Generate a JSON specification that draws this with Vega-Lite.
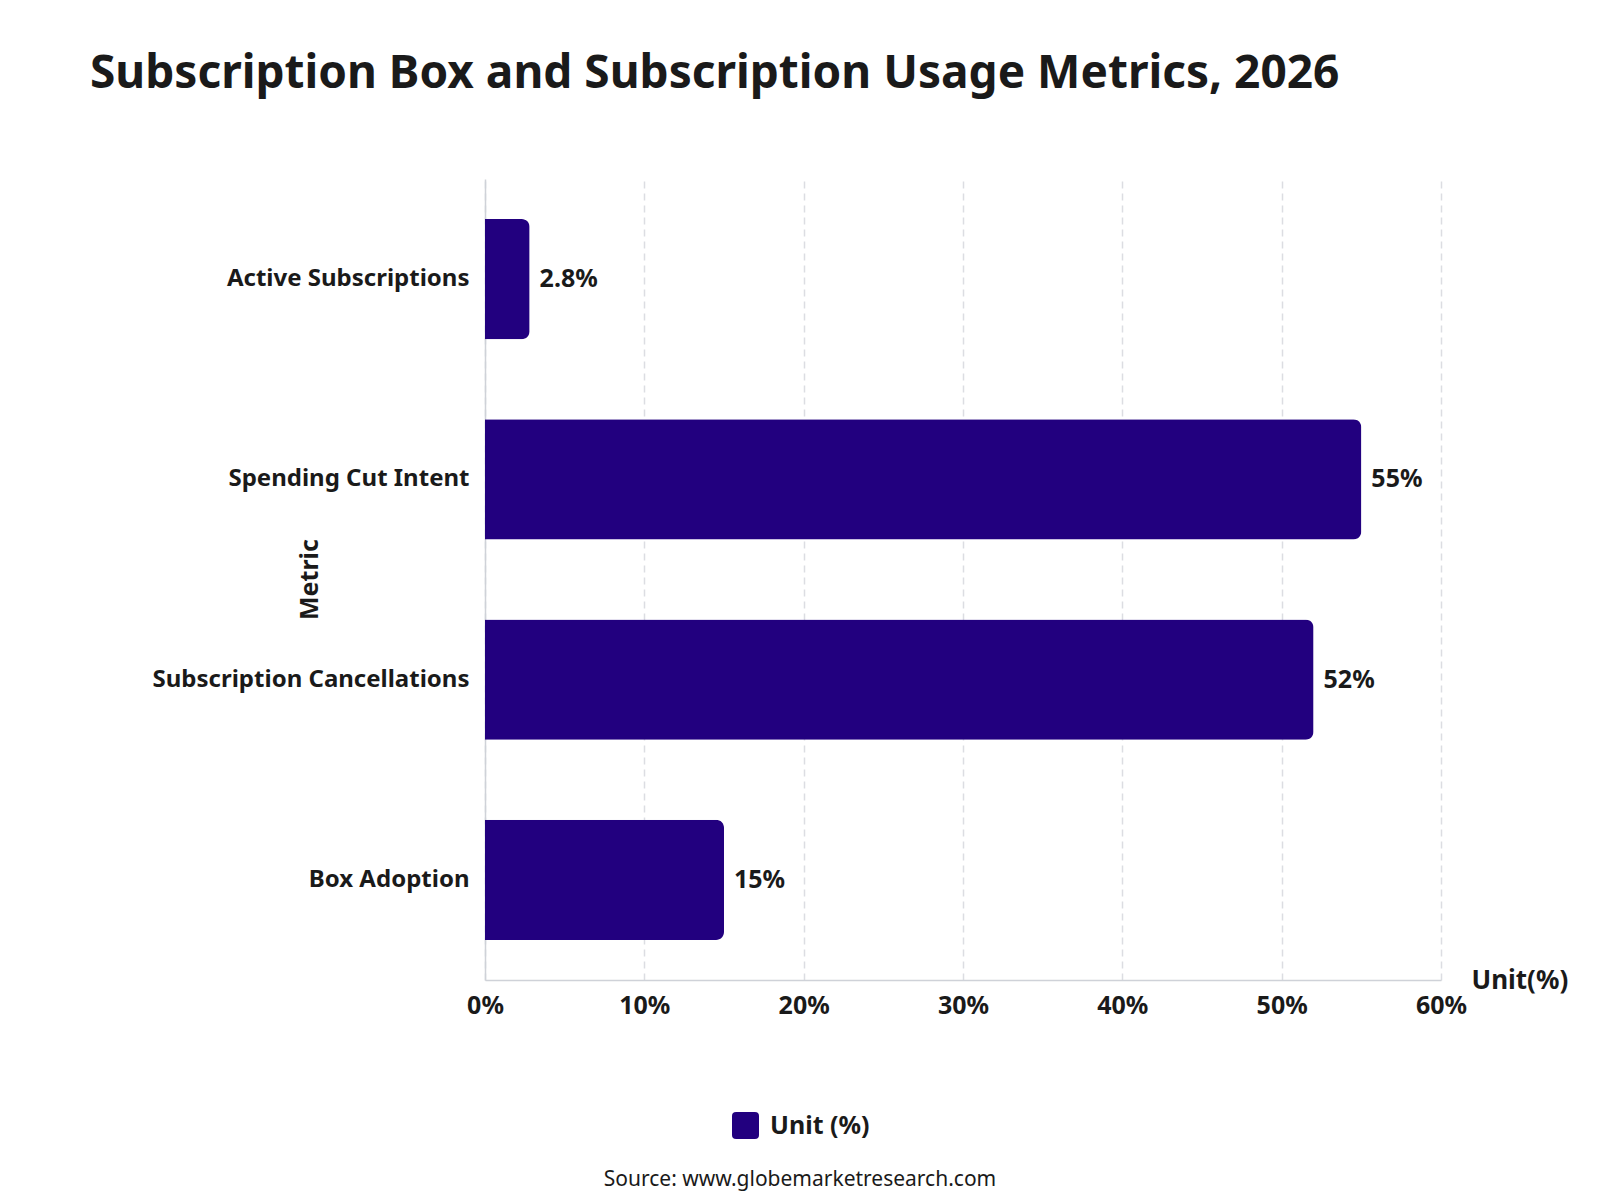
{
  "$schema": "https://vega.github.io/schema/vega-lite/v6.json",
  "autosize": {"type": "none"},
  "padding": {"left": 485, "top": 179, "right": 1115, "bottom": 1021},
  "background": "white",
  "title": {
    "text": "Subscription Box and Subscription Usage Metrics, 2026",
    "anchor": "start",
    "frame": "group",
    "baseline": "alphabetic",
    "offset": 45,
    "dx": -395,
    "fontSize": 46,
    "font": "Noto Sans",
    "fontWeight": "bold",
    "color": "#1a1a1a"
  },
  "config": {
    "font": "Noto Sans",
    "view": {"stroke": null},
    "text": {"font": "Noto Sans"}
  },
  "vconcat": [
    {
      "width": 956,
      "height": 801,
      "title": {
        "text": "Source: www.globemarketresearch.com",
        "orient": "bottom",
        "anchor": "middle",
        "frame": "group",
        "dx": -163,
        "offset": 151,
        "baseline": "top",
        "fontSize": 21,
        "fontWeight": "normal",
        "font": "Noto Sans",
        "color": "#1a1a1a"
      },
      "data": {
        "values": [
          {"metric": "Active Subscriptions", "value": 2.8, "series": "Unit (%)"},
          {"metric": "Spending Cut Intent", "value": 55, "series": "Unit (%)"},
          {"metric": "Subscription Cancellations", "value": 52, "series": "Unit (%)"},
          {"metric": "Box Adoption", "value": 15, "series": "Unit (%)"}
        ]
      },
      "transform": [{"calculate": "datum.value + '%'", "as": "label"}],
      "encoding": {
        "y": {
          "field": "metric",
          "type": "nominal",
          "sort": null,
          "title": "Metric",
          "scale": {"paddingInner": 0.4, "paddingOuter": 0.2},
          "axis": {
            "domain": true,
            "domainColor": "#cfd2d8",
            "domainWidth": 1.5,
            "ticks": false,
            "grid": false,
            "labelPadding": 16,
            "labelLimit": 500,
            "labelFontSize": 24,
            "labelFontWeight": "bold",
            "labelColor": "#1a1a1a",
            "labelFont": "Noto Sans",
            "titleFontSize": 25,
            "titleFontWeight": "bold",
            "titleColor": "#1a1a1a",
            "titleFont": "Noto Sans",
            "titleX": -176,
            "titleY": 400,
            "titleBaseline": "middle",
            "titleAlign": "center"
          }
        },
        "x": {
          "field": "value",
          "type": "quantitative",
          "title": "Unit(%)",
          "scale": {"domain": [0, 60], "nice": false},
          "axis": {
            "values": [0, 10, 20, 30, 40, 50, 60],
            "labelExpr": "datum.value + '%'",
            "labelFlush": false,
            "domainColor": "#cfd2d8",
            "domainWidth": 1.5,
            "ticks": false,
            "grid": true,
            "gridColor": "#dcdde2",
            "gridDash": [7, 5],
            "gridWidth": 1.5,
            "labelPadding": 13,
            "labelFontSize": 25,
            "labelFontWeight": "bold",
            "labelColor": "#1a1a1a",
            "labelFont": "Noto Sans",
            "titleFontSize": 26,
            "titleFontWeight": "bold",
            "titleColor": "#1a1a1a",
            "titleFont": "Noto Sans",
            "titleX": 986,
            "titleY": 8,
            "titleAlign": "left",
            "titleBaseline": "alphabetic"
          }
        }
      },
      "layer": [
        {
          "mark": {"type": "bar", "cornerRadiusEnd": 8},
          "encoding": {
            "color": {
              "field": "series",
              "type": "nominal",
              "scale": {"range": ["#22007f"]},
              "legend": {
                "title": null,
                "orient": "none",
                "legendX": 247,
                "legendY": 933,
                "padding": 0,
                "symbolType": "M-0.7,-1L0.7,-1Q1,-1 1,-0.7L1,0.7Q1,1 0.7,1L-0.7,1Q-1,1 -1,0.7L-1,-0.7Q-1,-1 -0.7,-1Z",
                "symbolSize": 729,
                "symbolStrokeWidth": 0,
                "labelFontSize": 25,
                "labelFontWeight": "bold",
                "labelColor": "#1a1a1a",
                "labelFont": "Noto Sans",
                "labelOffset": 11
              }
            }
          }
        },
        {
          "mark": {"type": "text", "align": "left", "baseline": "middle", "dx": 10, "fontSize": 25, "fontWeight": "bold", "color": "#1a1a1a"},
          "encoding": {"text": {"field": "label"}}
        }
      ]
    }
  ]
}
